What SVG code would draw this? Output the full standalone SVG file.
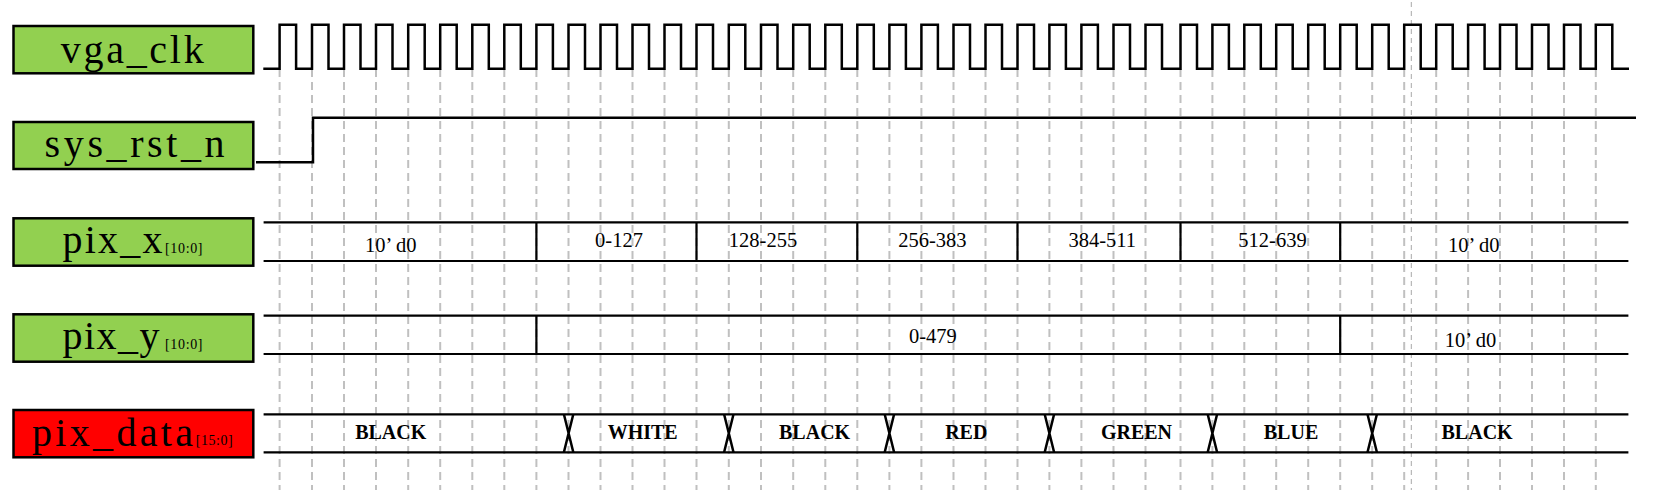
<svg xmlns="http://www.w3.org/2000/svg" width="1656" height="490" viewBox="0 0 1656 490">
<style>
.box{stroke:#000;stroke-width:2.5}
.green{fill:#92D050}
.red{fill:#FF0000}
.lbl{font-family:"Liberation Serif","Times New Roman",serif;font-size:40px;fill:#000}
.sub{font-size:14px}
.val{font-family:"Liberation Serif","Times New Roman",serif;font-size:20.5px;fill:#000;text-anchor:middle}
.bold{font-weight:bold;font-size:20px}
.grid{fill:none;stroke:#C0C0C0;stroke-width:2;stroke-dasharray:8 5}
.thin{fill:none;stroke:#A8A8A8;stroke-width:1;stroke-dasharray:5 4}
.wave{fill:none;stroke:#000;stroke-width:2.5;stroke-linejoin:miter}
.bus{fill:none;stroke:#000;stroke-width:2.2}
.stub{fill:none;stroke:#000;stroke-width:2.5}
</style>
<rect width="1656" height="490" fill="#fff"/>
<g id="grid">
<path class="grid" d="M279.6,69V490M312,69V490M344,69V490M376,69V490M408.2,69V490M440.2,69V490M472.3,69V490M504.3,69V490M536.4,69V490M568.5,69V490M600.5,69V490M632.5,69V490M664.5,69V490M696.5,69V490M728.8,69V490M761,69V490M793.2,69V490M825.3,69V490M857.3,69V490M889.4,69V490M921.4,69V490M953.5,69V490M985.5,69V490M1017.5,69V490M1049.4,69V490M1081.4,69V490M1113.5,69V490M1145.5,69V490M1180.5,69V490M1212.4,69V490M1244.3,69V490M1276.2,69V490M1308.2,69V490M1340.2,69V490M1372.2,69V490M1404.2,69V490M1436.2,69V490M1468.1,69V490M1500,69V490M1532,69V490M1564,69V490M1595.8,69V490"/>
<path class="thin" d="M1411.3,2V490"/>
</g>
<g id="node-vga_clk">
<rect class="box green" x="13.5" y="26" width="239.8" height="47.3"/>
<text class="lbl" x="60.7" y="62.7" textLength="143" lengthAdjust="spacing">vga_clk</text>
</g>
<g id="node-sys_rst_n">
<rect class="box green" x="13.5" y="122" width="239.8" height="47"/>
<text class="lbl" x="44.6" y="157.3" textLength="180" lengthAdjust="spacing">sys_rst_n</text>
</g>
<g id="node-pix_x">
<rect class="box green" x="13.5" y="218.3" width="239.8" height="47.4"/>
<text class="lbl"><tspan x="62.5" y="253.3" textLength="100" lengthAdjust="spacing">pix_x</tspan><tspan class="sub" x="165" y="252.5" textLength="37.5" lengthAdjust="spacing">[10:0]</tspan></text>
</g>
<g id="node-pix_y">
<rect class="box green" x="13.5" y="314.3" width="239.8" height="47.4"/>
<text class="lbl"><tspan x="62.5" y="349.3" textLength="97" lengthAdjust="spacing">pix_y</tspan><tspan class="sub" x="165" y="349" textLength="37.5" lengthAdjust="spacing">[10:0]</tspan></text>
</g>
<g id="node-pix_data">
<rect class="box red" x="13.5" y="410" width="239.8" height="47.3"/>
<text class="lbl"><tspan x="32" y="445.7" textLength="161" lengthAdjust="spacing">pix_data</tspan><tspan class="sub" x="195.7" y="444.5" textLength="37" lengthAdjust="spacing">[15:0]</tspan></text>
</g>
<g id="connectors">
<path class="wave" d="M263.3,68.8H279.6V24.7H296.1V68.8H312V24.7H328.5V68.8H344V24.7H360.5V68.8H376V24.7H392.5V68.8H408.2V24.7H424.7V68.8H440.2V24.7H456.7V68.8H472.3V24.7H488.8V68.8H504.3V24.7H520.8V68.8H536.4V24.7H552.9V68.8H568.5V24.7H585V68.8H600.5V24.7H617V68.8H632.5V24.7H649V68.8H664.5V24.7H681V68.8H696.5V24.7H713V68.8H728.8V24.7H745.3V68.8H761V24.7H777.5V68.8H793.2V24.7H809.7V68.8H825.3V24.7H841.8V68.8H857.3V24.7H873.8V68.8H889.4V24.7H905.9V68.8H921.4V24.7H937.9V68.8H953.5V24.7H970V68.8H985.5V24.7H1002V68.8H1017.5V24.7H1034V68.8H1049.4V24.7H1065.9V68.8H1081.4V24.7H1097.9V68.8H1113.5V24.7H1130V68.8H1145.5V24.7H1162V68.8H1180.5V24.7H1197V68.8H1212.4V24.7H1228.9V68.8H1244.3V24.7H1260.8V68.8H1276.2V24.7H1292.7V68.8H1308.2V24.7H1324.7V68.8H1340.2V24.7H1356.7V68.8H1372.2V24.7H1388.7V68.8H1404.2V24.7H1420.7V68.8H1436.2V24.7H1452.7V68.8H1468.1V24.7H1484.6V68.8H1500V24.7H1516.5V68.8H1532V24.7H1548.5V68.8H1564V24.7H1580.5V68.8H1595.8V24.7H1612.3V68.8H1629"/>
<path class="wave" d="M256,162.3H313V117.7H1636"/>
<path class="bus" d="M263.6,222.3H1628.4M263.6,261H1628.4M536.4,222.3V261M696.5,222.3V261M857.3,222.3V261M1017.5,222.3V261M1180.5,222.3V261M1340.2,222.3V261"/>
<path class="bus" d="M263.6,315.7H1628.4M263.6,354H1628.4M536.4,315.7V354M1340.2,315.7V354"/>
<path class="bus" d="M263.6,414.3H1628.4M263.6,452.3H1628.4"/>
<path class="stub" d="M563.9,414.3L573.3,452.3M573.3,414.3L563.9,452.3M724.1,414.3L733.5,452.3M733.5,414.3L724.1,452.3M884.7,414.3L894.1,452.3M894.1,414.3L884.7,452.3M1044.7,414.3L1054.1,452.3M1054.1,414.3L1044.7,452.3M1207.7,414.3L1217.1,452.3M1217.1,414.3L1207.7,452.3M1367.5,414.3L1376.9,452.3M1376.9,414.3L1367.5,452.3"/>
</g>
<g id="values">
<text class="val" x="390.7" y="252.3">10’ d0</text>
<text class="val" x="619" y="246.7">0-127</text>
<text class="val" x="763" y="246.7">128-255</text>
<text class="val" x="932.3" y="246.7">256-383</text>
<text class="val" x="1102.2" y="246.7">384-511</text>
<text class="val" x="1272.5" y="246.7">512-639</text>
<text class="val" x="1473.8" y="252.3">10’ d0</text>
<text class="val" x="932.9" y="342.7">0-479</text>
<text class="val" x="1470.5" y="346.7">10’ d0</text>
<text class="val bold" x="390.7" y="439.3">BLACK</text>
<text class="val bold" x="642.7" y="439.3">WHITE</text>
<text class="val bold" x="814.6" y="439.3">BLACK</text>
<text class="val bold" x="966.3" y="439.3">RED</text>
<text class="val bold" x="1136.5" y="439.3">GREEN</text>
<text class="val bold" x="1291" y="439.3">BLUE</text>
<text class="val bold" x="1477.1" y="439.3">BLACK</text>
</g>
</svg>
